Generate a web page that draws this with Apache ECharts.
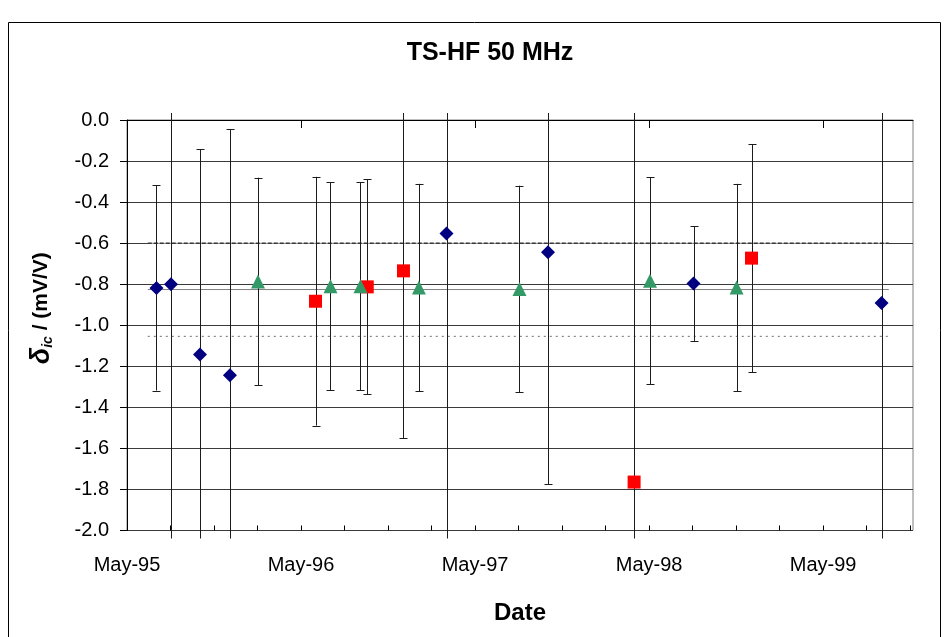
<!DOCTYPE html>
<html>
<head>
<meta charset="utf-8">
<title>TS-HF 50 MHz</title>
<script src="https://cdn.jsdelivr.net/npm/echarts@6/dist/echarts.min.js"></script>
<style>
  html, body { margin: 0; padding: 0; background: #fff; }
  #chart { width: 948px; height: 637px; }
</style>
</head>
<body>
<div id="chart"></div>
<script>
// Calibration results, TS-HF 50 MHz: deviation delta_ic (mV/V) with uncertainty
const blueDates  = ['1995-07-02', '1995-08-02', '1995-10-02', '1995-12-04', '1997-03-02', '1997-10-02', '1998-08-03', '1999-09-02'];
const blueValues = [-0.818, -0.800, -1.143, -1.244, -0.553, -0.644, -0.797, -0.891];
const blueErrors = [0.50, 1.50, 1.00, 1.20, 1.60, 1.13, 0.28, 1.50];

const redDates  = ['1996-06-01', '1996-09-18', '1996-12-03', '1998-03-31', '1998-12-03'];
const redValues = [-0.883, -0.813, -0.735, -1.764, -0.673];
const redErrors = [0.606, 0.524, 0.816, 1.90, 0.556];

const greenDates  = ['1996-02-02', '1996-07-02', '1996-09-04', '1997-01-05', '1997-08-03', '1998-05-03', '1998-11-02'];
const greenValues = [-0.787, -0.810, -0.810, -0.816, -0.823, -0.783, -0.816];
const greenErrors = [0.506, 0.506, 0.506, 0.505, 0.503, 0.505, 0.505];

// Reference value and its limits
const refSpan  = ['1995-06-14', '1999-09-17'];
const refMean  = -0.826;
const refUpper = -0.600;
const refLower = -1.054;

// Axis layout: months counted from May 1995
const xMax = 54.2;
const majorTicks = [0, 12, 24, 36, 48];
const minorTicks = [0, 3, 6, 9, 12, 15, 18, 21, 24, 27, 30, 33, 36, 39, 42, 45, 48, 51, 54];
const tickLabels = ['May-95', 'May-96', 'May-97', 'May-98', 'May-99'];

function toMonths(d) {
  const [y, m, day] = d.split('-').map(Number);
  const dim = new Date(y, m, 0).getDate();
  return (y - 1995) * 12 + (m - 5) + (day - 1) / dim;
}

function points(dates, values, errors) {
  return dates.map((d, i) => [toMonths(d), values[i], errors[i]]);
}

const FONT = 'Liberation Sans, Arial, sans-serif';

function errorBarItem(params, api) {
  const cs = params.coordSys;
  const x = Math.round(api.coord([api.value(0), 0])[0]) + 0.5;
  const v = api.value(1), e = api.value(2);
  const yHi = api.coord([0, v + e])[1];
  const yLo = api.coord([0, v - e])[1];
  const limTop = cs.y - 7, limBot = cs.y + cs.height + 8;
  const style = { stroke: '#1c1c1c', lineWidth: 1 };
  const children = [{
    type: 'line',
    shape: { x1: x, y1: Math.max(yHi, limTop), x2: x, y2: Math.min(yLo, limBot) },
    style: style
  }];
  if (yHi >= cs.y - 0.5) {
    const y = Math.round(yHi) + 0.5;
    children.push({ type: 'line', shape: { x1: x - 4, y1: y, x2: x + 4, y2: y }, style: style });
  }
  if (yLo <= cs.y + cs.height + 0.5) {
    const y = Math.round(yLo) + 0.5;
    children.push({ type: 'line', shape: { x1: x - 4, y1: y, x2: x + 4, y2: y }, style: style });
  }
  return { type: 'group', children: children };
}

function errorSeries(data) {
  return {
    type: 'custom',
    renderItem: errorBarItem,
    data: data,
    encode: { x: 0, y: 1 },
    clip: false,
    silent: true,
    z: 3
  };
}

function refLine(value, lineStyle, z) {
  return {
    type: 'line',
    data: [[toMonths(refSpan[0]), value], [toMonths(refSpan[1]), value]],
    symbol: 'none',
    silent: true,
    lineStyle: lineStyle,
    z: z
  };
}

const blue = points(blueDates, blueValues, blueErrors);
const red = points(redDates, redValues, redErrors);
const green = points(greenDates, greenValues, greenErrors);

const chart = echarts.init(document.getElementById('chart'), null, { renderer: 'canvas' });

chart.setOption({
  animation: false,
  backgroundColor: '#ffffff',
  textStyle: { fontFamily: FONT },
  title: {
    text: 'TS-HF 50 MHz',
    left: 485,
    top: 36,
    textAlign: 'center',
    textStyle: { fontFamily: FONT, fontSize: 25, fontWeight: 'bold', color: '#000' }
  },
  graphic: [{
    type: 'rect',
    shape: { x: 8.5, y: 22.5, width: 932, height: 700 },
    style: { fill: 'none', stroke: '#000', lineWidth: 1 },
    silent: true,
    z: -10
  }],
  grid: {
    left: 127, top: 120, width: 786, height: 410.5,
    show: true, borderColor: '#808080', borderWidth: 1, backgroundColor: 'transparent'
  },
  xAxis: [{
    type: 'value',
    min: 0, max: xMax,
    name: 'Date',
    nameLocation: 'middle',
    nameGap: 71,
    nameTextStyle: { fontFamily: FONT, fontSize: 24, fontWeight: 'bold', color: '#000' },
    axisLine: { show: true, lineStyle: { color: '#000', width: 1 } },
    axisTick: { show: true, inside: false, length: 8, customValues: majorTicks, lineStyle: { color: '#000' } },
    axisLabel: {
      customValues: majorTicks,
      formatter: v => tickLabels[Math.round(v / 12)] || '',
      fontFamily: FONT, fontSize: 20, color: '#000', margin: 25
    },
    splitLine: { show: false }
  }, {
    type: 'value',
    min: 0, max: xMax,
    position: 'bottom',
    axisLine: { show: false },
    axisTick: { show: true, inside: true, length: 5, customValues: minorTicks, lineStyle: { color: '#000' } },
    axisLabel: { show: false },
    splitLine: { show: false }
  }],
  yAxis: {
    type: 'value',
    min: -2, max: 0, interval: 0.2,
    name: '{d|δ}{s|ic}{n| / (mV/V)}',
    nameLocation: 'middle',
    nameGap: 72,
    nameTextStyle: {
      color: '#000',
      padding: [0, 0, 0, 34],
      rich: {
        d: { fontFamily: FONT, fontSize: 27, fontStyle: 'italic', fontWeight: 'bold', color: '#000' },
        s: { fontFamily: FONT, fontSize: 14, fontStyle: 'italic', fontWeight: 'bold', color: '#000', verticalAlign: 'bottom', padding: [10, 0, 0, 0] },
        n: { fontFamily: FONT, fontSize: 21, fontWeight: 'bold', color: '#000' }
      }
    },
    axisLine: { show: true, lineStyle: { color: '#000', width: 1 } },
    axisTick: { show: true, inside: false, length: 7, lineStyle: { color: '#000' } },
    axisLabel: {
      formatter: v => v.toFixed(1),
      fontFamily: FONT, fontSize: 20, color: '#000', margin: 18
    },
    splitLine: { show: true, lineStyle: { color: '#3a3a3a', width: 1 } }
  },
  series: [
    refLine(refUpper, { color: '#cfcfcf', width: 1, type: 'solid' }, 1),
    refLine(refUpper, { color: '#000', width: 1, type: [4, 2] }, 2),
    refLine(refMean, { color: '#808080', width: 1, type: 'solid' }, 2),
    refLine(refLower, { color: '#6a6a6a', width: 1, type: [2, 4] }, 2),
    errorSeries(blue),
    errorSeries(red),
    errorSeries(green),
    {
      type: 'scatter', data: blue, symbol: 'diamond', symbolSize: 14,
      itemStyle: { color: '#000080', opacity: 1 }, z: 5
    },
    {
      type: 'scatter', data: red, symbol: 'rect', symbolSize: 13,
      itemStyle: { color: '#ff0000', opacity: 1 }, z: 5
    },
    {
      type: 'scatter', data: green, symbol: 'triangle', symbolSize: 14,
      itemStyle: { color: '#339966', opacity: 1 }, z: 5
    }
  ]
});
</script>
</body>
</html>
